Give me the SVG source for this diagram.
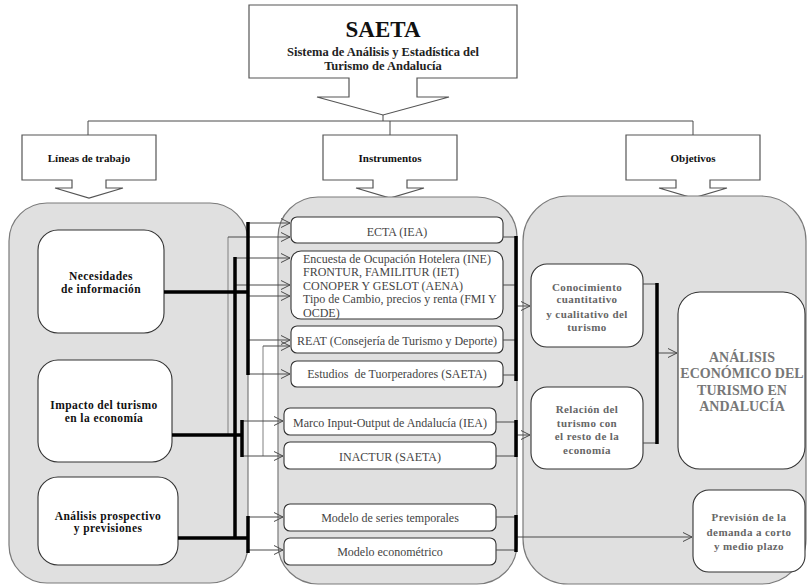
<svg xmlns="http://www.w3.org/2000/svg" width="809" height="586" viewBox="0 0 809 586">
  <style>
    .bg { fill: #ffffff; }
    .panel { fill: #e0e0e0; stroke: #7a7a7a; stroke-width: 1.2; }
    .hdr { fill: #ffffff; stroke: #555555; stroke-width: 1.2; }
    .box { fill: #ffffff; stroke: #333333; stroke-width: 1.1; }
    .thick { stroke: #000000; stroke-width: 3.5; fill: none; }
    .thin { stroke: #4a4a4a; stroke-width: 1; fill: none; }
    .grey { stroke: #808080; stroke-width: 1; fill: none; }
    .arr { stroke: #4a4a4a; stroke-width: 1; fill: none; marker-end: url(#open); }
    text { font-family: "Liberation Serif", "Times New Roman", serif; }
    .title { font-size: 23px; font-weight: bold; fill: #111; text-anchor: middle; }
    .sub { font-size: 12.5px; font-weight: bold; fill: #222; text-anchor: middle; }
    .hl { font-size: 11px; font-weight: bold; fill: #111; text-anchor: middle; }
    .lt { font-size: 11.5px; font-weight: bold; fill: #111; text-anchor: middle; letter-spacing: 0.4px; }
    .mt { font-size: 12px; fill: #444; text-anchor: middle; }
    .ml { font-size: 12px; fill: #444; }
    .rt { font-size: 11px; font-weight: bold; fill: #666; text-anchor: middle; letter-spacing: 0.4px; }
    .big { font-size: 14px; font-weight: bold; fill: #777; text-anchor: middle; }
  </style>
  <defs>
    <marker id="open" markerUnits="userSpaceOnUse" markerWidth="12" markerHeight="12" refX="10" refY="5" orient="auto">
      <path d="M1,0.5 L10,5 L1,9.5" fill="none" stroke="#4a4a4a" stroke-width="1"/>
    </marker>
  </defs>

  <rect class="bg" x="0" y="0" width="809" height="586"/>

  <!-- header tree -->
  <g id="saeta">
    <path class="hdr" d="M249,5 H517 V78 H417 V97 H449 L383,115 L317,97 H349 V78 H249 Z"/>
    <text class="title" x="383" y="37">SAETA</text>
    <text class="sub" x="383" y="56">Sistema de Análisis y Estadística del</text>
    <text class="sub" x="383" y="70">Turismo de Andalucía</text>
  </g>

  <g id="tree-lines">
    <path class="thin" d="M383,115 V121 M88,121 H693 M88,121 V135 M390,121 V135 M693,121 V135"/>
  </g>

  <g id="hdr-lineas">
    <path class="hdr" d="M22,135 H156 V180 H106 V188 H123 L89,198 L55,188 H72 V180 H22 Z"/>
    <text class="hl" x="89" y="162">Líneas de trabajo</text>
  </g>
  <g id="hdr-instrumentos">
    <path class="hdr" d="M323,135 H457 V180 H407 V188 H424 L390,198 L356,188 H373 V180 H323 Z"/>
    <text class="hl" x="390" y="162">Instrumentos</text>
  </g>
  <g id="hdr-objetivos">
    <path class="hdr" d="M626,135 H760 V180 H710 V188 H727 L693,198 L659,188 H676 V180 H626 Z"/>
    <text class="hl" x="693" y="162">Objetivos</text>
  </g>

  <!-- column panels -->
  <g id="panel-lineas"><rect class="panel" x="9" y="203" width="239" height="380" rx="38"/></g>
  <g id="panel-instrumentos"><rect class="panel" x="278" y="197" width="239" height="387" rx="40"/></g>
  <g id="panel-objetivos"><rect class="panel" x="523" y="196" width="283" height="388" rx="45"/></g>

  <!-- left column -->
  <g id="necesidades">
    <rect class="box" x="38" y="230" width="126" height="103" rx="20"/>
    <text class="lt" x="101" y="280">Necesidades</text>
    <text class="lt" x="101" y="293">de información</text>
  </g>
  <g id="impacto">
    <rect class="box" x="38" y="360" width="134" height="102" rx="20"/>
    <text class="lt" x="104" y="409">Impacto del turismo</text>
    <text class="lt" x="104" y="422">en la economía</text>
  </g>
  <g id="prospectivo">
    <rect class="box" x="38" y="477" width="140" height="88" rx="20"/>
    <text class="lt" x="108" y="520">Análisis prospectivo</text>
    <text class="lt" x="108" y="532">y previsiones</text>
  </g>

  <!-- middle column -->
  <g id="ecta">
    <rect class="box" x="291" y="217" width="212" height="26" rx="6"/>
    <text class="mt" x="397" y="236">ECTA (IEA)</text>
  </g>
  <g id="encuestas">
    <rect class="box" x="291" y="251" width="212" height="68" rx="10"/>
    <text class="ml" x="303" y="263">Encuesta de Ocupación Hotelera (INE)</text>
    <text class="ml" x="303" y="276">FRONTUR, FAMILITUR (IET)</text>
    <text class="ml" x="303" y="290">CONOPER Y GESLOT (AENA)</text>
    <text class="ml" x="303" y="303">Tipo de Cambio, precios y renta (FMI Y</text>
    <text class="ml" x="303" y="317">OCDE)</text>
  </g>
  <g id="reat">
    <rect class="box" x="291" y="326" width="212" height="27" rx="6"/>
    <text class="mt" x="397" y="345">REAT (Consejería de Turismo y Deporte)</text>
  </g>
  <g id="tuoperadores">
    <rect class="box" x="291" y="361" width="212" height="26" rx="6"/>
    <text class="mt" x="397" y="378" xml:space="preserve">Estudios  de Tuorperadores (SAETA)</text>
  </g>
  <g id="input-output">
    <rect class="box" x="284" y="408" width="212" height="27" rx="6"/>
    <text class="mt" x="390" y="427">Marco Input-Output de Andalucía (IEA)</text>
  </g>
  <g id="inactur">
    <rect class="box" x="284" y="442" width="212" height="27" rx="6"/>
    <text class="mt" x="390" y="461">INACTUR (SAETA)</text>
  </g>
  <g id="series">
    <rect class="box" x="284" y="504" width="212" height="27" rx="6"/>
    <text class="mt" x="390" y="522">Modelo de series temporales</text>
  </g>
  <g id="econometrico">
    <rect class="box" x="284" y="538" width="212" height="27" rx="6"/>
    <text class="mt" x="390" y="556">Modelo econométrico</text>
  </g>

  <!-- right column -->
  <g id="conocimiento">
    <rect class="box" x="531" y="264" width="112" height="83" rx="16"/>
    <text class="rt" x="587" y="291">Conocimiento</text>
    <text class="rt" x="587" y="303">cuantitativo</text>
    <text class="rt" x="587" y="318">y cualitativo del</text>
    <text class="rt" x="587" y="331">turismo</text>
  </g>
  <g id="relacion">
    <rect class="box" x="531" y="387" width="112" height="82" rx="16"/>
    <text class="rt" x="587" y="413">Relación del</text>
    <text class="rt" x="587" y="427">turismo con</text>
    <text class="rt" x="587" y="440">el resto de la</text>
    <text class="rt" x="587" y="454">economía</text>
  </g>
  <g id="analisis-economico">
    <rect class="box" x="678" y="292" width="127" height="177" rx="22"/>
    <text class="big" x="742" y="362">ANÁLISIS</text>
    <text class="big" x="742" y="378">ECONÓMICO DEL</text>
    <text class="big" x="742" y="395">TURISMO EN</text>
    <text class="big" x="742" y="411">ANDALUCÍA</text>
  </g>
  <g id="prevision">
    <rect class="box" x="693" y="490" width="112" height="82" rx="16"/>
    <text class="rt" x="749" y="521">Previsión de la</text>
    <text class="rt" x="749" y="536">demanda a corto</text>
    <text class="rt" x="749" y="550">y medio plazo</text>
  </g>

  <!-- connectors -->
  <g id="connectors">
    <!-- feeds from the work lines into the instruments -->
    <path class="grey" d="M228,237 V435"/>
    <path class="grey" d="M263,346 V456"/>
    <path class="arr" d="M248,223 H290"/>
    <path class="arr" d="M228,237 H290"/>
    <path class="arr" d="M235,258 H290"/>
    <path class="arr" d="M235,285 H290"/>
    <path class="arr" d="M248,296 H290"/>
    <path class="arr" d="M248,340 H290"/>
    <path class="arr" d="M263,346 H290"/>
    <path class="arr" d="M248,374 H290"/>
    <path class="arr" d="M242,421 H283"/>
    <path class="arr" d="M242,456 H283"/>
    <path class="arr" d="M248,517 H283"/>
    <path class="arr" d="M248,550 H283"/>

    <path class="thick" d="M164,292 H248"/>
    <path class="thick" d="M248,222 V375"/>
    <path class="thick" d="M235,257 V539"/>
    <path class="thick" d="M172,435 H243"/>
    <path class="thick" d="M242,420 V457"/>
    <path class="thick" d="M178,538 H249"/>
    <path class="thick" d="M248,516 V553"/>

    <!-- instruments into the objectives -->
    <path class="thin" d="M503,237 H516 M503,285 H516 M503,340 H516 M503,375 H516"/>
    <path class="thin" d="M496,422 H516 M496,456 H516"/>
    <path class="thin" d="M496,517 H516 M496,550 H516"/>
    <path class="arr" d="M516,306 H530"/>
    <path class="arr" d="M516,435 H530"/>
    <path class="arr" d="M516,537 H692"/>
    <path class="thick" d="M516,236 V381"/>
    <path class="thick" d="M516,420 V457"/>
    <path class="thick" d="M516,515 V552"/>

    <!-- objectives into the economic analysis -->
    <path class="thin" d="M643,284 H657 M643,443 H657"/>
    <path class="arr" d="M657,353 H677"/>
    <path class="thick" d="M657,283 V444"/>
  </g>
</svg>
